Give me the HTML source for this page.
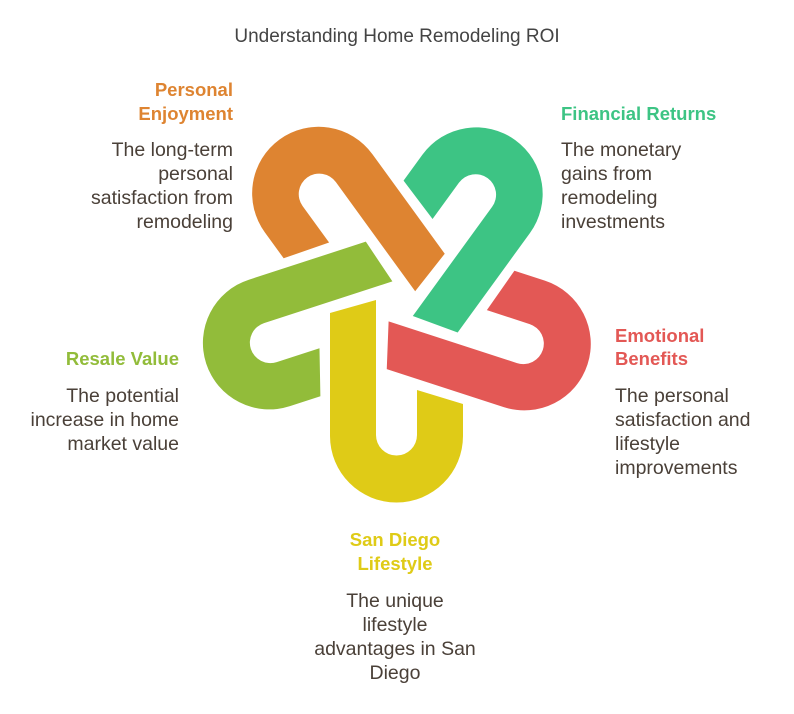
<!DOCTYPE html>
<html><head><style>
html,body{margin:0;padding:0;background:#fff;}
svg{display:block;font-family:"Liberation Sans",sans-serif;}
.t{font-size:19.5px;fill:#4a4038;}
.h{font-size:18.5px;font-weight:bold;}
</style></head><body>
<svg width="794" height="714" viewBox="0 0 794 714" xmlns="http://www.w3.org/2000/svg">
<text x="397" y="42" text-anchor="middle" font-size="19" fill="#444">Understanding Home Remodeling ROI</text>
<defs>
<path id="u" d="M330,313 L376,300 L376,435 A20.5,20.5 0 0 0 417,435 L417,390 L463,404 L463,436 A66.5,66.5 0 0 1 330,436 Z"/>
</defs>
<use href="#u" fill="#DFCB17"/>
<use href="#u" fill="#92BC3A" transform="rotate(72 397 302)"/>
<use href="#u" fill="#DE8431" transform="rotate(144 397 302)"/>
<use href="#u" fill="#3DC484" transform="rotate(216 397 302)"/>
<use href="#u" fill="#E35855" transform="rotate(288 397 302)"/>

<g class="h" fill="#DE8431" text-anchor="end">
<text x="233" y="96">Personal</text><text x="233" y="120">Enjoyment</text></g>
<g class="t" text-anchor="end">
<text x="233" y="156">The long-term</text><text x="233" y="180">personal</text><text x="233" y="204">satisfaction from</text><text x="233" y="228">remodeling</text></g>

<text class="h" x="561" y="120" fill="#3DC484">Financial Returns</text>
<g class="t">
<text x="561" y="156">The monetary</text><text x="561" y="180">gains from</text><text x="561" y="204">remodeling</text><text x="561" y="228">investments</text></g>

<g class="h" fill="#E35855">
<text x="615" y="342">Emotional</text><text x="615" y="365">Benefits</text></g>
<g class="t">
<text x="615" y="402">The personal</text><text x="615" y="426">satisfaction and</text><text x="615" y="450">lifestyle</text><text x="615" y="474">improvements</text></g>

<text class="h" x="179" y="365" fill="#92BC3A" text-anchor="end">Resale Value</text>
<g class="t" text-anchor="end">
<text x="179" y="402">The potential</text><text x="179" y="426">increase in home</text><text x="179" y="450">market value</text></g>

<g class="h" fill="#DFCB17" text-anchor="middle">
<text x="395" y="546">San Diego</text><text x="395" y="570">Lifestyle</text></g>
<g class="t" text-anchor="middle">
<text x="395" y="607">The unique</text><text x="395" y="631">lifestyle</text><text x="395" y="655">advantages in San</text><text x="395" y="679">Diego</text></g>
</svg>
</body></html>
